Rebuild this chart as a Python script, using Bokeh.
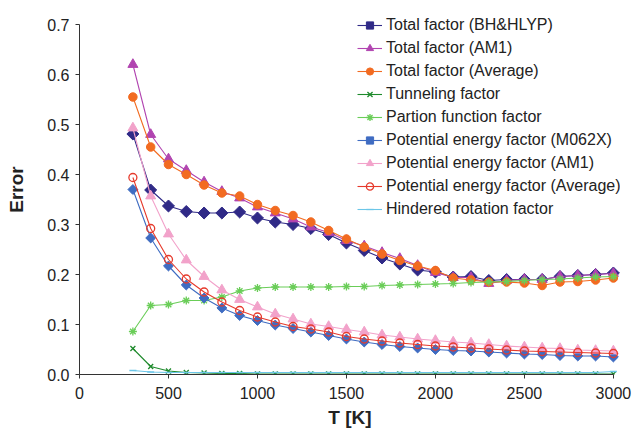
import numpy as np
from bokeh.plotting import figure
from bokeh.models import Range1d, FixedTicker, PrintfTickFormatter, Legend, LegendItem
from bokeh.embed import file_html
from bokeh.resources import INLINE

# ---- data ----
T = [300, 400, 500, 600, 700, 800, 900, 1000, 1100, 1200, 1300, 1400, 1500, 1600,
     1700, 1800, 1900, 2000, 2100, 2200, 2300, 2400, 2500, 2600, 2700, 2800, 2900, 3000]

total_bhhlyp = [0.481, 0.369, 0.337, 0.326, 0.323, 0.323, 0.325, 0.313, 0.305, 0.300, 0.292, 0.280, 0.263, 0.248,
                0.233, 0.221, 0.209, 0.205, 0.195, 0.196, 0.188, 0.190, 0.190, 0.190, 0.196, 0.198, 0.200, 0.203]
total_am1 = [0.620, 0.480, 0.431, 0.408, 0.385, 0.366, 0.353, 0.335, 0.323, 0.311, 0.295, 0.284, 0.268, 0.257,
             0.244, 0.232, 0.218, 0.204, 0.194, 0.194, 0.182, 0.188, 0.190, 0.190, 0.196, 0.198, 0.200, 0.202]
total_avg = [0.555, 0.455, 0.420, 0.400, 0.379, 0.363, 0.357, 0.340, 0.328, 0.318, 0.305, 0.288, 0.271, 0.255,
             0.241, 0.228, 0.217, 0.208, 0.193, 0.189, 0.185, 0.185, 0.183, 0.178, 0.185, 0.186, 0.189, 0.193]
tunneling = [0.052, 0.016, 0.007, 0.004, 0.003, 0.002, 0.002, 0.001, 0.001, 0.001, 0.001, 0.001, 0.001, 0.001,
             0.001, 0.001, 0.001, 0.001, 0.001, 0.001, 0.001, 0.001, 0.001, 0.001, 0.001, 0.001, 0.001, 0.001]
partition = [0.086, 0.138, 0.140, 0.148, 0.148, 0.155, 0.167, 0.173, 0.175, 0.175, 0.175, 0.175, 0.176, 0.176,
             0.178, 0.179, 0.180, 0.181, 0.182, 0.184, 0.185, 0.186, 0.188, 0.190, 0.191, 0.193, 0.195, 0.196]
pe_m062x = [0.370, 0.273, 0.217, 0.179, 0.153, 0.133, 0.118, 0.108, 0.099, 0.092, 0.085, 0.078, 0.071, 0.065,
            0.060, 0.056, 0.053, 0.050, 0.048, 0.047, 0.045, 0.043, 0.041, 0.040, 0.038, 0.037, 0.037, 0.035]
pe_am1 = [0.493, 0.357, 0.281, 0.229, 0.196, 0.169, 0.150, 0.135, 0.121, 0.111, 0.101, 0.096, 0.090, 0.085,
          0.079, 0.075, 0.071, 0.068, 0.065, 0.063, 0.060, 0.057, 0.055, 0.053, 0.052, 0.049, 0.048, 0.047]
pe_avg = [0.394, 0.292, 0.230, 0.191, 0.165, 0.145, 0.128, 0.115, 0.105, 0.096, 0.091, 0.085, 0.076, 0.071,
          0.067, 0.063, 0.060, 0.057, 0.055, 0.053, 0.051, 0.049, 0.047, 0.046, 0.045, 0.044, 0.043, 0.042]
hindered = [0.008, 0.005, 0.004, 0.004, 0.004, 0.004, 0.004, 0.004, 0.004, 0.004, 0.004, 0.004, 0.004, 0.004,
            0.004, 0.004, 0.004, 0.004, 0.004, 0.004, 0.004, 0.004, 0.004, 0.004, 0.004, 0.004, 0.004, 0.006]

labels = ["Total factor (BH&HLYP)", "Total factor (AM1)", "Total factor (Average)", "Tunneling factor",
          "Partion function factor", "Potential energy factor (M062X)", "Potential energy factor (AM1)",
          "Potential energy factor (Average)", "Hindered rotation factor"]

X_TICKS = [0, 500, 1000, 1500, 2000, 2500, 3000]
Y_TICKS = [0.0, 0.1, 0.2, 0.3, 0.4, 0.5, 0.6, 0.7]

# ---- style ----
# (values, color, marker, size, angle, fill)
series = [
    (total_bhhlyp, "#302a87", "square", 8.5, np.pi / 4, True),
    (total_am1, "#b144b0", "triangle", 10, 0, True),
    (total_avg, "#f26b21", "circle", 8.5, 0, True),
    (tunneling, "#1e8a2c", "x", 7, 0, False),
    (partition, "#6acd58", "asterisk", 8, 0, False),
    (pe_m062x, "#3f6cc2", "square", 7, np.pi / 4, True),
    (pe_am1, "#f2a2ca", "triangle", 10, 0, True),
    (pe_avg, "#e63a2c", "circle", 8, 0, False),
    (hindered, "#6cc6e8", "dash", 7, 0, False),
]

FONT = "Liberation Sans"

p = figure(width=632, height=432, output_backend="svg", toolbar_location=None,
           x_range=Range1d(0, 3040), y_range=Range1d(0, 0.74),
           min_border_left=79, min_border_right=12, min_border_top=4, min_border_bottom=58)
p.outline_line_color = None
p.grid.grid_line_color = None
p.background_fill_color = "white"

items = []
for (vals, color, marker, size, ang, fill), lab in zip(series, labels):
    r1 = p.line(T, vals, line_color=color, line_width=1.1)
    r2 = p.scatter(T, vals, marker=marker, size=size, angle=ang,
                   line_color=color, fill_color=color if fill else "white",
                   fill_alpha=1.0 if fill else 0.0, line_width=1.3 if not fill else 1.0)
    items.append(LegendItem(label=lab, renderers=[r1, r2]))

legend = Legend(items=items, location=(278, 156), padding=0, margin=0, spacing=5,
                label_height=18, glyph_height=18, glyph_width=25, label_standoff=4,
                label_text_font=FONT, label_text_font_size="16px", label_text_color="#222222",
                border_line_alpha=0, background_fill_alpha=0)
p.add_layout(legend, "center")

for ax in (p.xaxis[0], p.yaxis[0]):
    ax.axis_line_color = "#333333"
    ax.major_tick_line_color = "#333333"
    ax.major_tick_in = 0
    ax.major_tick_out = 4
    ax.minor_tick_line_color = None
    ax.major_label_text_font = FONT
    ax.major_label_text_font_size = "16px"
    ax.major_label_text_color = "#222222"
    ax.axis_label_text_font = FONT
    ax.axis_label_text_font_size = "19px"
    ax.axis_label_text_font_style = "bold"
    ax.axis_label_text_color = "#222222"

p.xaxis.ticker = FixedTicker(ticks=X_TICKS)
p.xaxis.bounds = (0, 3000)
p.xaxis.axis_label = "T [K]"
p.xaxis.major_label_standoff = 8
p.xaxis.axis_label_standoff = 5

p.yaxis.ticker = FixedTicker(ticks=Y_TICKS)
p.yaxis.bounds = (0, 0.7)
p.yaxis.formatter = PrintfTickFormatter(format="%.1f")
p.yaxis.axis_label = "Error"
p.yaxis.major_label_standoff = 6
p.yaxis.axis_label_standoff = 17

open("out.html", "w").write(file_html(p, INLINE))
